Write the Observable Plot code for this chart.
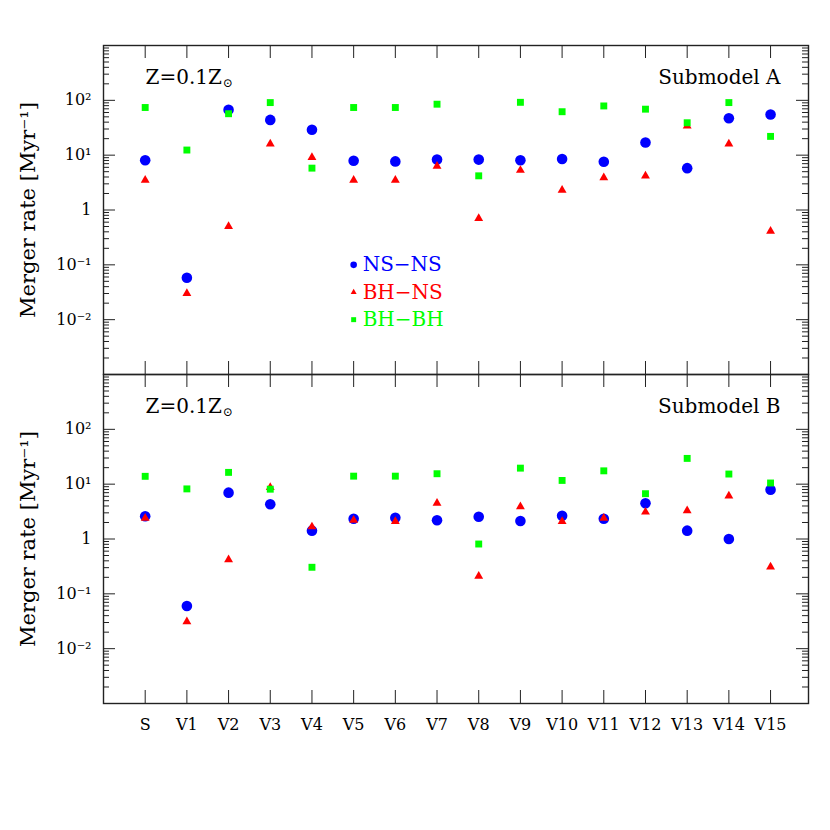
<!DOCTYPE html>
<html>
<head>
<meta charset="utf-8">
<script src="https://cdn.jsdelivr.net/npm/d3@7"></script>
<script src="https://cdn.jsdelivr.net/npm/@observablehq/plot@0.6"></script>
<style>
  html, body { margin: 0; padding: 0; background: #fff; }
  #chart { width: 830px; height: 830px; }
</style>
</head>
<body>
<div id="chart"></div>
<script>
// ---- data ----
const categories = ["S","V1","V2","V3","V4","V5","V6","V7","V8","V9","V10","V11","V12","V13","V14","V15"];
const panels = ["A", "B"];
const panelTitles = ["Submodel A", "Submodel B"];
const metallicity = "Z=0.1Z";
const yLabel = "Merger rate [Myr\u207B\u00B9]";

const nsnsA = [8.1, 0.058, 67, 44, 29, 7.9, 7.7, 8.3, 8.3, 8.1, 8.5, 7.6, 17, 5.8, 47, 55];
const bhnsA = [3.5, 0.030, 0.50, 16, 9.1, 3.5, 3.5, 6.3, 0.70, 5.3, 2.3, 3.9, 4.2, 34, 16, 0.41];
const bhbhA = [74, 12.4, 57, 91, 5.8, 74, 74, 85, 4.2, 92, 62, 79, 69, 39, 91, 22];

const nsnsB = [2.6, 0.060, 7.0, 4.3, 1.42, 2.34, 2.44, 2.2, 2.55, 2.13, 2.66, 2.34, 4.5, 1.42, 1.0, 7.9];
const bhnsB = [2.4, 0.031, 0.42, 8.7, 1.67, 2.2, 2.1, 4.5, 0.21, 3.9, 2.1, 2.4, 3.1, 3.3, 6.1, 0.31];
const bhbhB = [13.9, 8.2, 16.4, 8.1, 0.305, 14, 14, 15.5, 0.81, 19.6, 11.7, 17.5, 6.7, 29.5, 15.3, 10.5];

const seriesNames = ["NS\u2212NS", "BH\u2212NS", "BH\u2212BH"];
const seriesColors = ["#0000ff", "#ff0000", "#00ff00"];
const legendY = [0.1, 0.0316, 0.01];
const legendXIndex = 5;

const yTickValues = [1e2, 1e1, 1, 1e-1, 1e-2];
const yTickLabels = ["10\u00B2", "10\u00B9", "1", "10\u207B\u00B9", "10\u207B\u00B2"];

// ---- derived tables ----
const rows = (panel, vals) => vals.map((v, i) => ({panel, i, v}));
const nsns = rows("A", nsnsA).concat(rows("B", nsnsB));
const bhns = rows("A", bhnsA).concat(rows("B", bhnsB));
const bhbh = rows("A", bhbhA).concat(rows("B", bhbhB));

const majorY = d3.range(-3, 4).map(e => Math.pow(10, e));
const minorY = [];
for (let e = -3; e < 3; e++) for (let m = 2; m <= 9; m++) minorY.push(m * Math.pow(10, e));
const xIdx = d3.range(categories.length);

const legendRows = seriesNames.map((name, k) => ({panel: "A", name, color: seriesColors[k], y: legendY[k], x: legendXIndex}));

const W = 830, H = 830, mT = 45, mB = 127, mL = 103, mR = 22;
const innerW = W - mL - mR;
const facetH = (H - mT - mB) / 2;
const ink = "#222";

const chart = Plot.plot({
  width: W, height: H,
  marginTop: mT, marginBottom: mB, marginLeft: mL, marginRight: mR,
  style: {fontFamily: "'DejaVu Serif'", fontSize: "16px", background: "#fff", color: "#000"},
  x: {type: "linear", domain: [-1, 15.91], axis: null},
  y: {type: "log", domain: [1e-3, 1e3], axis: null},
  fy: {domain: panels, padding: 0, axis: null},
  marks: [
    // ticks (inward)
    Plot.tickX(xIdx, {x: d => d, insetBottom: facetH - 13, stroke: ink}),
    Plot.tickX(xIdx, {x: d => d, insetTop: facetH - 13, stroke: ink}),
    Plot.tickY(majorY, {y: d => d, insetRight: innerW - 12, stroke: ink}),
    Plot.tickY(minorY, {y: d => d, insetRight: innerW - 6, stroke: ink}),
    Plot.tickY(majorY, {y: d => d, insetLeft: innerW - 12, stroke: ink}),
    Plot.tickY(minorY, {y: d => d, insetLeft: innerW - 6, stroke: ink}),
    // y tick labels
    Plot.text(yTickValues, {y: d => d, text: (d, i) => yTickLabels[i], frameAnchor: "left", dx: -12, textAnchor: "end", lineAnchor: "middle", fontSize: 16}),
    // x tick labels (bottom panel only)
    Plot.text(xIdx, {x: d => d, fy: () => "B", text: d => categories[d], frameAnchor: "bottom", dy: 26, lineAnchor: "bottom", fontSize: 16}),
    // y axis label
    Plot.text(panels, {fy: d => d, text: () => yLabel, frameAnchor: "left", dx: -75, rotate: -90, textAnchor: "middle", lineAnchor: "middle", fontSize: 21}),
    // annotations
    Plot.text(panels, {fy: d => d, text: () => metallicity, frameAnchor: "top-left", dx: 42, dy: 38, textAnchor: "start", lineAnchor: "bottom", fontSize: 20}),
    Plot.text(panels, {fy: d => d, text: (d, i) => panelTitles[i], frameAnchor: "top-right", dx: -28, dy: 38, textAnchor: "end", lineAnchor: "bottom", fontSize: 20}),
    // data
    Plot.dot(nsns, {x: "i", y: "v", fy: "panel", r: 5.3, fill: seriesColors[0], symbol: "circle"}),
    Plot.dot(bhns, {x: "i", y: "v", fy: "panel", r: 3.3, fill: seriesColors[1], symbol: "triangle"}),
    Plot.dot(bhbh, {x: "i", y: "v", fy: "panel", r: 3.9, fill: seriesColors[2], symbol: "square"}),
    // legend
    Plot.dot(legendRows.slice(0, 1), {x: "x", y: "y", fy: "panel", r: 3.3, fill: "color", symbol: "circle"}),
    Plot.dot(legendRows.slice(1, 2), {x: "x", y: "y", fy: "panel", r: 2.2, fill: "color", symbol: "triangle"}),
    Plot.dot(legendRows.slice(2, 3), {x: "x", y: "y", fy: "panel", r: 2.8, fill: "color", symbol: "square"}),
    Plot.text(legendRows, {x: "x", y: "y", fy: "panel", text: "name", fill: "color", dx: 9, textAnchor: "start", lineAnchor: "middle", fontSize: 20}),
    // frame
    Plot.frame({stroke: ink, strokeWidth: 1.4})
  ]
});

// add the solar subscript symbol to the metallicity annotation
d3.select(chart).selectAll("text").each(function() {
  if (this.textContent === metallicity) {
    d3.select(this).append("tspan").attr("dy", "0.25em").attr("dx", "1").style("font-size", "12px").text("\u2299");
  }
});

document.getElementById("chart").appendChild(chart);
</script>
</body>
</html>
